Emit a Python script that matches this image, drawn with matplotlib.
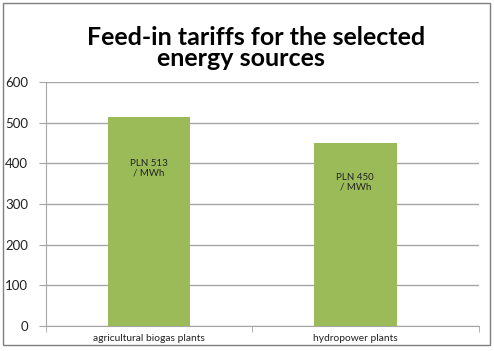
import matplotlib
matplotlib.use("Agg")
import matplotlib.pyplot as plt
from matplotlib.patches import Rectangle

categories = ["agricultural biogas plants", "hydropower plants"]
values = [513, 450]
bar_labels = ["PLN 513\n/ MWh", "PLN 450\n/ MWh"]
yticks = [0, 100, 200, 300, 400, 500, 600]

plt.rcParams['font.family'] = ['Lato', 'DejaVu Sans']

fig = plt.figure(figsize=(4.94, 3.51), dpi=100)
ax = fig.add_axes([46/494, 1-326/351, (479-46)/494, (326-82)/351])

x = [0, 1]
ax.bar(x, values, width=0.4, color='#9BBB59', zorder=3)
ax.set_xlim(-0.5, 1.6)
ax.set_ylim(0, 600)
ax.set_yticks(yticks)
ax.set_yticklabels([str(t) for t in yticks], fontsize=9.5, color='#222222')
ax.yaxis.grid(True, color='#A6A6A6', linewidth=1, zorder=0)
ax.tick_params(axis='y', length=5, color='#A6A6A6', pad=8)

ax.set_xticks(x)
ax.set_xticklabels(categories, fontsize=7.4, color='#222222')
ax.tick_params(axis='x', length=0, pad=6)
ax.set_xticks([-0.5, 0.5, 1.6], minor=True)
ax.tick_params(axis='x', which='minor', length=4, color='#A6A6A6')

for s in ['top', 'right']:
    ax.spines[s].set_visible(False)
for s in ['left', 'bottom']:
    ax.spines[s].set_color('#A6A6A6')

offsets = [388, 354]
for xi, lab, yo in zip(x, bar_labels, offsets):
    ax.text(xi, yo, lab, ha='center', va='center', fontsize=7, color='#222222',
            linespacing=1.0, zorder=4)

fig.text(256/494, 1-45/351, "Feed-in tariffs for the selected", ha='center',
         va='baseline', fontsize=18, fontweight='bold', color='black')
fig.text(241/494, 1-66/351, "energy sources", ha='center',
         va='baseline', fontsize=18, fontweight='bold', color='black')

fig.patches.append(Rectangle((3/494, 1-345/351), 487/494, 342/351,
                             transform=fig.transFigure, fill=False,
                             edgecolor='#7F7F7F', linewidth=1))

fig.savefig("out.png", dpi=100)
